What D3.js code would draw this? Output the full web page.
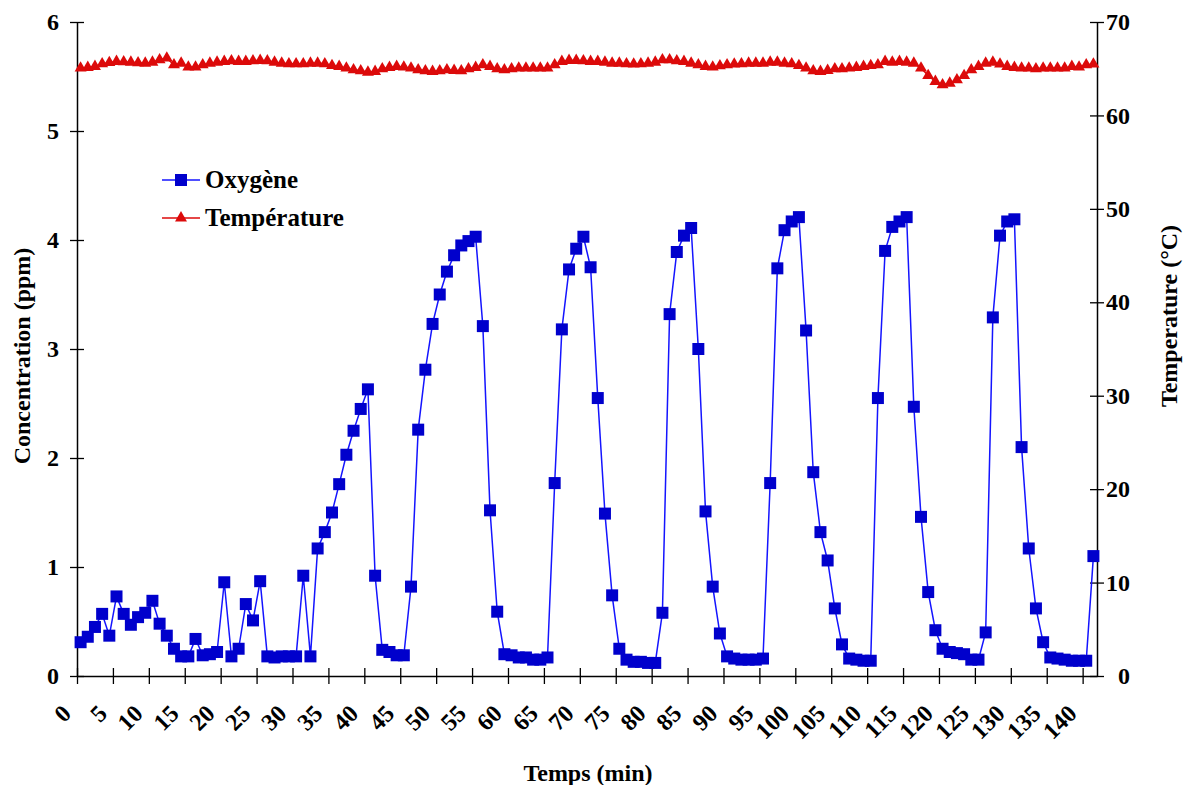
<!DOCTYPE html>
<html>
<head>
<meta charset="utf-8">
<script src="https://cdn.jsdelivr.net/npm/d3@7"></script>
<style>
  html, body { margin: 0; padding: 0; background: #fff; }
  svg { display: block; }
  text { font-family: "Liberation Serif", "Times New Roman", serif; font-weight: bold; fill: #000; }
</style>
</head>
<body>
<svg id="chart" width="1183" height="785"></svg>
<script>
// Sampling instants (one reading per minute)
const minutes = d3.range(142);

// Dissolved oxygen (ppm)
const oxygen = [
  0.31, 0.36, 0.45, 0.57, 0.37, 0.73, 0.57, 0.47, 0.54, 0.58,
  0.69, 0.48, 0.37, 0.25, 0.18, 0.18, 0.34, 0.19, 0.20, 0.22,
  0.86, 0.18, 0.25, 0.66, 0.51, 0.87, 0.18, 0.17, 0.18, 0.18,
  0.18, 0.92, 0.18, 1.17, 1.32, 1.50, 1.76, 2.03, 2.25, 2.45,
  2.63, 0.92, 0.24, 0.22, 0.19, 0.19, 0.82, 2.26, 2.81, 3.23,
  3.50, 3.71, 3.86, 3.95, 3.99, 4.03, 3.21, 1.52, 0.59, 0.20,
  0.19, 0.17, 0.17, 0.15, 0.15, 0.17, 1.77, 3.18, 3.73, 3.92,
  4.03, 3.75, 2.55, 1.49, 0.74, 0.25, 0.15, 0.13, 0.13, 0.12,
  0.12, 0.58, 3.32, 3.89, 4.04, 4.11, 3.00, 1.51, 0.82, 0.39,
  0.18, 0.16, 0.15, 0.15, 0.15, 0.16, 1.77, 3.74, 4.09, 4.17,
  4.21, 3.17, 1.87, 1.32, 1.06, 0.62, 0.29, 0.16, 0.15, 0.14,
  0.14, 2.55, 3.90, 4.12, 4.17, 4.21, 2.47, 1.46, 0.77, 0.42,
  0.25, 0.22, 0.21, 0.20, 0.15, 0.15, 0.40, 3.29, 4.04, 4.17,
  4.19, 2.10, 1.17, 0.62, 0.31, 0.17, 0.16, 0.15, 0.14, 0.14,
  0.14, 1.10
];

// Temperature (°C)
const temperature = [
  65.06, 65.13, 65.24, 65.52, 65.66, 65.77, 65.73, 65.70, 65.63, 65.59,
  65.70, 65.95, 66.13, 65.41, 65.59, 65.17, 65.17, 65.41, 65.59, 65.70,
  65.77, 65.84, 65.77, 65.77, 65.84, 65.88, 65.84, 65.70, 65.59, 65.52,
  65.52, 65.52, 65.59, 65.59, 65.52, 65.34, 65.24, 65.06, 64.88, 64.77,
  64.63, 64.70, 64.99, 65.13, 65.24, 65.17, 65.06, 64.88, 64.77, 64.70,
  64.77, 64.88, 64.81, 64.77, 64.99, 65.13, 65.41, 65.24, 64.99, 64.88,
  64.99, 65.06, 65.06, 65.06, 65.06, 65.06, 65.41, 65.77, 65.88, 65.88,
  65.84, 65.77, 65.77, 65.70, 65.59, 65.59, 65.52, 65.49, 65.52, 65.59,
  65.70, 65.95, 65.95, 65.84, 65.77, 65.59, 65.41, 65.24, 65.17, 65.31,
  65.41, 65.49, 65.52, 65.59, 65.59, 65.59, 65.70, 65.70, 65.59, 65.52,
  65.34, 65.06, 64.77, 64.70, 64.81, 64.99, 64.99, 65.06, 65.13, 65.24,
  65.34, 65.41, 65.77, 65.70, 65.77, 65.70, 65.59, 65.06, 64.27, 63.63,
  63.27, 63.45, 63.81, 64.27, 64.88, 65.24, 65.59, 65.70, 65.49, 65.24,
  65.13, 65.06, 65.06, 64.99, 65.06, 65.06, 65.06, 65.06, 65.24, 65.17,
  65.41, 65.49
];

// Axis ticks
const timeTicks = [0, 5, 10, 15, 20, 25, 30, 35, 40, 45, 50, 55, 60, 65, 70,
                   75, 80, 85, 90, 95, 100, 105, 110, 115, 120, 125, 130, 135, 140];
const concTicks = [0, 1, 2, 3, 4, 5, 6];
const tempTicks = [0, 10, 20, 30, 40, 50, 60, 70];

const BLUE_MARK = "#0000cc";
const BLUE_LINE = "#1414ff";
const RED = "#dc0a0a";

const svg = d3.select("#chart");
const plotLeft = 77, plotRight = 1097, plotTop = 22, plotBottom = 676;

const x = d3.scaleLinear().domain([0, 142]).range([plotLeft, plotRight]);
const yConc = d3.scaleLinear().domain([0, 6]).range([plotBottom, plotTop]);
const yTemp = d3.scaleLinear().domain([0, 70]).range([plotBottom, plotTop]);

// each reading sits at the centre of its one-minute slot
const px = i => x(minutes[i] + 0.5);

// ---- axes ----
const fontSize = 24;

const gx = svg.append("g").attr("transform", `translate(0,${plotBottom})`)
  .call(d3.axisBottom(x).tickValues(timeTicks).tickSize(0).tickFormat(d3.format("d")));
gx.select(".domain").attr("stroke", "#000").attr("stroke-width", 1.5);
gx.selectAll(".tick line").attr("y1", -8).attr("y2", 8).attr("stroke", "#000").attr("stroke-width", 1.3);
gx.selectAll(".tick text")
  .attr("font-size", fontSize)
  .attr("text-anchor", "end")
  .attr("dy", null)
  .attr("y", 0)
  .attr("transform", "translate(-5,39) rotate(-45)");

const gl = svg.append("g").attr("transform", `translate(${plotLeft},0)`)
  .call(d3.axisLeft(yConc).tickValues(concTicks).tickSize(0).tickFormat(d3.format("d")));
gl.select(".domain").attr("stroke", "#000").attr("stroke-width", 1.5);
gl.selectAll(".tick line").attr("x1", -7).attr("x2", 7).attr("stroke", "#000").attr("stroke-width", 1.3);
gl.selectAll(".tick text").attr("font-size", fontSize).attr("x", -18);

const gr = svg.append("g").attr("transform", `translate(${plotRight},0)`)
  .call(d3.axisRight(yTemp).tickValues(tempTicks).tickSize(0).tickFormat(d3.format("d")));
gr.select(".domain").attr("stroke", "#000").attr("stroke-width", 1.5);
gr.selectAll(".tick line").attr("x1", -7).attr("x2", 7).attr("stroke", "#000").attr("stroke-width", 1.3);
gr.selectAll(".tick text").attr("font-size", fontSize).attr("text-anchor", "end").attr("x", 33);

svg.selectAll(".domain").attr("fill", "none");

// ---- axis titles ----
svg.append("text")
  .attr("transform", "translate(30,356) rotate(-90)")
  .attr("text-anchor", "middle").attr("font-size", fontSize)
  .text("Concentration (ppm)");

svg.append("text")
  .attr("transform", "translate(1177,316) rotate(-90)")
  .attr("text-anchor", "middle").attr("font-size", fontSize)
  .text("Temperature (°C)");

svg.append("text")
  .attr("x", 588).attr("y", 781)
  .attr("text-anchor", "middle").attr("font-size", fontSize)
  .text("Temps (min)");

// ---- temperature series ----
const triangle = d3.symbol().type(d3.symbolTriangle).size(62);
const square = d3.symbol().type(d3.symbolSquare).size(144);

svg.append("path")
  .datum(temperature)
  .attr("fill", "none").attr("stroke", RED).attr("stroke-width", 1.5)
  .attr("d", d3.line().x((d, i) => px(i)).y(d => yTemp(d)));

svg.append("g").selectAll("path")
  .data(temperature).join("path")
  .attr("transform", (d, i) => `translate(${px(i)},${yTemp(d)})`)
  .attr("d", triangle).attr("fill", RED);

// ---- oxygen series ----
svg.append("path")
  .datum(oxygen)
  .attr("fill", "none").attr("stroke", BLUE_LINE).attr("stroke-width", 1.5)
  .attr("d", d3.line().x((d, i) => px(i)).y(d => yConc(d)));

svg.append("g").selectAll("path")
  .data(oxygen).join("path")
  .attr("transform", (d, i) => `translate(${px(i)},${yConc(d)})`)
  .attr("d", square).attr("fill", BLUE_MARK);

// ---- legend ----
const legend = svg.append("g");
const legendItems = [
  { label: "Oxygène", y: 180, line: BLUE_LINE, fill: BLUE_MARK, sym: square },
  { label: "Température", y: 218, line: RED, fill: RED, sym: triangle }
];
legendItems.forEach(it => {
  legend.append("line").attr("x1", 162).attr("x2", 200).attr("y1", it.y).attr("y2", it.y)
    .attr("stroke", it.line).attr("stroke-width", 1.5);
  legend.append("path").attr("transform", `translate(181,${it.y})`).attr("d", it.sym).attr("fill", it.fill);
  legend.append("text").attr("x", 205).attr("y", it.y + 8).attr("font-size", 25).text(it.label);
});
</script>
</body>
</html>
